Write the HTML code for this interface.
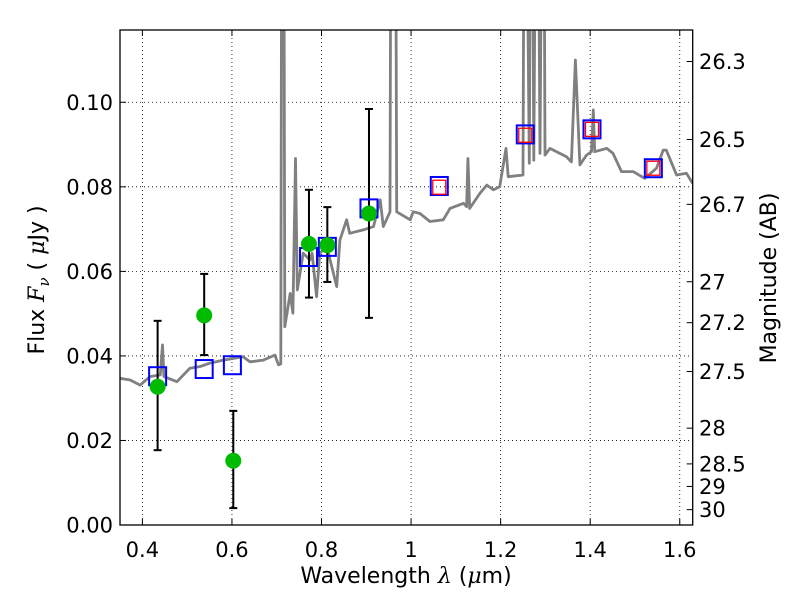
<!DOCTYPE html>
<html><head><meta charset="utf-8">
<style>
html,body{margin:0;padding:0;background:#fff;}
svg{display:block;font-family:"DejaVu Sans","Liberation Sans",sans-serif;}
</style></head>
<body>
<svg id="chart" width="800" height="600" viewBox="0 0 800 600" xmlns="http://www.w3.org/2000/svg">
<defs><clipPath id="plotclip"><rect x="120" y="30" width="572.7" height="495"/></clipPath></defs>
<rect width="800" height="600" fill="#fff"/>
<g id="grid"></g>
<g id="spec" clip-path="url(#plotclip)"></g>
<g id="marks" clip-path="url(#plotclip)"></g>
<g id="axes"></g>
<text x="406" y="583" font-size="22" text-anchor="middle">Wavelength  <tspan font-style="italic" font-family="'DejaVu Serif',serif">λ</tspan> (<tspan font-style="italic" font-family="'DejaVu Serif',serif">μ</tspan>m)</text>
<text transform="translate(44,280) rotate(-90)" font-size="22" text-anchor="middle">Flux  <tspan font-style="italic" font-family="'DejaVu Serif',serif">F</tspan><tspan font-style="italic" font-family="'DejaVu Serif',serif" font-size="15" dy="5">ν</tspan><tspan dy="-5">  ( </tspan><tspan font-style="italic" font-family="'DejaVu Serif',serif">μ</tspan>Jy )</text>
<text transform="translate(776,278) rotate(-90)" font-size="22" text-anchor="middle">Magnitude (AB)</text>
</svg>
<script>
const specLam=[0.350,0.3725,0.395,0.417,0.440,0.445,0.448,0.477,0.506,0.529,0.551,0.581,0.625,0.640,0.670,0.696,0.704,0.709,0.712,0.715,0.718,0.730,0.736,0.742,0.746,0.759,0.774,0.779,0.789,0.796,0.812,0.834,0.841,0.856,0.863,0.893,0.916,0.931,0.938,0.953,0.956,0.964,0.968,0.998,1.005,1.020,1.042,1.072,1.087,1.117,1.124,1.127,1.131,1.154,1.169,1.184,1.198,1.212,1.217,1.250,1.254,1.264,1.269,1.274,1.281,1.288,1.295,1.299,1.310,1.325,1.347,1.358,1.367,1.377,1.392,1.403,1.407,1.410,1.437,1.451,1.470,1.496,1.522,1.548,1.563,1.570,1.582,1.593,1.615,1.629];
const specFlux=[0.0347,0.0343,0.0331,0.0351,0.0355,0.0426,0.0351,0.0339,0.0371,0.0375,0.0383,0.0390,0.0398,0.0386,0.0390,0.0402,0.0379,0.0381,0.2,0.2,0.0469,0.0548,0.0501,0.0867,0.0556,0.0643,0.0627,0.0643,0.0540,0.0643,0.0658,0.0564,0.0674,0.0722,0.0690,0.0698,0.0706,0.0769,0.0706,0.0741,0.2,0.2,0.0741,0.0722,0.0741,0.0737,0.0718,0.0722,0.0749,0.0761,0.0753,0.0867,0.0749,0.0785,0.0804,0.0793,0.0800,0.0891,0.0824,0.0828,0.2,0.0856,0.2,0.0863,0.2,0.0879,0.2,0.0875,0.0891,0.0883,0.0871,0.0859,0.1100,0.0852,0.0875,0.0883,0.0982,0.0883,0.0891,0.0879,0.0836,0.0836,0.0820,0.0844,0.0887,0.0887,0.0856,0.0828,0.0832,0.0808];
const obsLam=[0.434,0.538,0.603,0.772,0.813,0.906];
const obsFlux=[0.0327,0.0496,0.0152,0.0665,0.0662,0.0737];
const obsHi=[0.0483,0.0594,0.0270,0.0793,0.0752,0.0984];
const obsLo=[0.0177,0.0402,0.0040,0.0538,0.0575,0.0490];
const modLam=[0.434,0.538,0.601,0.771,0.813,0.906,1.063,1.255,1.404,1.541];
const modFlux=[0.0352,0.0369,0.0378,0.0634,0.0658,0.0749,0.0802,0.0924,0.0936,0.0844];
const irLam=[1.063,1.255,1.404,1.541];
const irFlux=[0.0799,0.0922,0.0936,0.0844];
const xTicks=[0.4,0.6,0.8,1.0,1.2,1.4,1.6];
const xTickLabels=["0.4","0.6","0.8","1","1.2","1.4","1.6"];
const yTicks=[0,0.02,0.04,0.06,0.08,0.10];
const yTickLabels=["0.00","0.02","0.04","0.06","0.08","0.10"];
const magTicks=[26.3,26.5,26.7,27,27.2,27.5,28,28.5,29,30];
const magTickLabels=["26.3","26.5","26.7","27","27.2","27.5","28","28.5","29","30"];

const L=120,R=692.7,T=30,B=525,XMIN=0.35,XMAX=1.6289,YMIN=0,YMAX=0.1171;
const X=v=>L+(v-XMIN)/(XMAX-XMIN)*(R-L);
const Y=v=>B-(v-YMIN)/(YMAX-YMIN)*(B-T);
const NS="http://www.w3.org/2000/svg";
function mk(tag,parent,attrs){const e=document.createElementNS(NS,tag);for(const k in attrs)e.setAttribute(k,attrs[k]);parent.appendChild(e);return e;}
const grid=document.getElementById('grid'),axes=document.getElementById('axes'),spec=document.getElementById('spec'),marks=document.getElementById('marks');

xTicks.forEach((t,i)=>{
  const x=X(t);
  const g=mk('line',grid,{x1:x,x2:x,y1:T,y2:B,stroke:'#000','stroke-width':0.8,'stroke-dasharray':'1,3'});
  
  
  const tk=mk('line',axes,{x1:x,x2:x,y1:B,y2:B-6,stroke:'#000','stroke-width':1});
  
  
  mk('line',axes,{x1:x,x2:x,y1:T,y2:T+6,stroke:'#000','stroke-width':1});
  const lb=mk('text',axes,{x:x,y:557,'font-size':21,'text-anchor':'middle'});
  lb.textContent=xTickLabels[i];
  
  
});
yTicks.forEach((t,i)=>{
  const y=Y(t);
  const g=mk('line',grid,{x1:L,x2:R,y1:y,y2:y,stroke:'#000','stroke-width':0.8,'stroke-dasharray':'1,3'});
  
  
  const tk=mk('line',axes,{x1:L,x2:L+6,y1:y,y2:y,stroke:'#000','stroke-width':1});
  
  
  const lb=mk('text',axes,{x:113,y:y+7.5,'font-size':21,'text-anchor':'end'});
  lb.textContent=yTickLabels[i];
  
  
});
magTicks.forEach((m,i)=>{
  const f=Math.pow(10,-(m-23.9)/2.5);
  const y=Y(f);
  const tk=mk('line',axes,{x1:R,x2:R-6,y1:y,y2:y,stroke:'#000','stroke-width':1});
  
  
  const lb=mk('text',axes,{x:699,y:y+7.5,'font-size':21,'text-anchor':'start'});
  lb.textContent=magTickLabels[i];
  
  
});
const frame=mk('rect',axes,{x:L,y:T,width:R-L,height:B-T,fill:'none',stroke:'#000','stroke-width':1.3});



const pts=specLam.map((l,i)=>X(l).toFixed(1)+','+Y(specFlux[i]).toFixed(1)).join(' ');
const pl=mk('polyline',spec,{points:pts,fill:'none',stroke:'#808080','stroke-width':2.8,'stroke-linejoin':'round'});



obsLam.forEach((l,i)=>{
  const x=X(l);
  const e=mk('line',marks,{x1:x,x2:x,y1:Y(obsHi[i]),y2:Y(obsLo[i]),stroke:'#000','stroke-width':2});
  
  
  [obsHi[i],obsLo[i]].forEach(v=>{mk('line',marks,{x1:x-4,x2:x+4,y1:Y(v),y2:Y(v),stroke:'#000','stroke-width':2});});
});
modLam.forEach((l,i)=>{
  const s=mk('rect',marks,{x:X(l)-8.5,y:Y(modFlux[i])-9,width:17,height:18,fill:'none',stroke:'#0000ff','stroke-width':2});
  
  
});
irLam.forEach((l,i)=>{
  const s=mk('rect',marks,{x:X(l)-6.5,y:Y(irFlux[i])-7,width:13,height:14,fill:'none',stroke:'#ff0000','stroke-width':1.3});
  
  
});
obsLam.forEach((l,i)=>{
  const c=mk('circle',marks,{cx:X(l),cy:Y(obsFlux[i]),r:8,fill:'#00bb00'});
  
  
});
</script>
</body></html>
